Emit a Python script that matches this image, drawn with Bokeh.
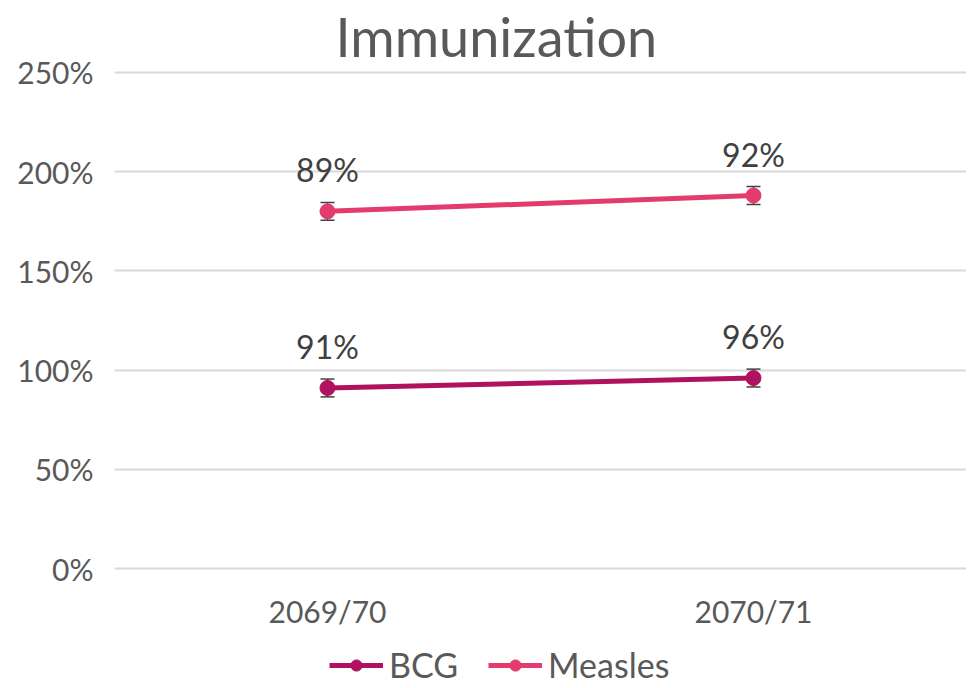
from bokeh.plotting import figure
from bokeh.layouts import column
from bokeh.models import (ColumnDataSource, Range1d, FactorRange, Whisker, TeeHead,
                          LabelSet, Legend, LegendItem, CustomJSTickFormatter)
from bokeh.core.properties import value
from bokeh.embed import file_html
from bokeh.resources import INLINE

categories = ["2069/70", "2070/71"]
bcg = [91, 96]
measles = [89, 92]
err = [4.5, 4.5]
y_ticks = [0, 50, 100, 150, 200, 250]
series_names = ["BCG", "Measles"]

FONT = "Lato"
TXT = "#595959"
C_BCG = "#B0125F"
C_MEA = "#E33B6E"

measles_stacked = [a + b for a, b in zip(bcg, measles)]

src_b = ColumnDataSource(dict(x=categories, y=bcg,
                              lo=[v - e for v, e in zip(bcg, err)],
                              hi=[v + e for v, e in zip(bcg, err)],
                              lab=[f"{v}%" for v in bcg]))
src_m = ColumnDataSource(dict(x=categories, y=measles_stacked,
                              lo=[v - e for v, e in zip(measles_stacked, err)],
                              hi=[v + e for v, e in zip(measles_stacked, err)],
                              lab=[f"{v}%" for v in measles]))

p = figure(frame_width=852, frame_height=500,
           x_range=FactorRange(*categories, range_padding=0),
           y_range=Range1d(-1, 251), output_backend="svg", toolbar_location=None,
           min_border_left=114, min_border_right=0, min_border_top=0, min_border_bottom=0)
p.x_range.factor_padding = 0
p.outline_line_color = None
p.background_fill_color = "white"
p.border_fill_color = "white"

p.title.text = "Immunization"
p.title.align = "left"
p.title.text_font = FONT
p.title.text_font_size = "54px"
p.title.text_font_style = "normal"
p.title.text_color = TXT
p.title.offset = 221
p.title.standoff = 3

p.xgrid.grid_line_color = None
p.ygrid.grid_line_color = "#D9D9D9"
p.ygrid.grid_line_width = 2
p.yaxis.ticker = y_ticks
p.yaxis.formatter = CustomJSTickFormatter(code="return tick + '%';")
for ax in (p.xaxis, p.yaxis):
    ax.axis_line_color = None
    ax.major_tick_line_color = None
    ax.minor_tick_line_color = None
    ax.major_label_text_font = FONT
    ax.major_label_text_font_size = "30px"
    ax.major_label_text_color = TXT
p.yaxis.major_label_standoff = 15
p.xaxis.major_label_standoff = 16

for s in (src_b, src_m):
    w = Whisker(source=s, base="x", upper="hi", lower="lo", line_color="#404040", line_width=1.5,
                upper_head=TeeHead(size=14, line_color="#404040", line_width=1.5),
                lower_head=TeeHead(size=14, line_color="#404040", line_width=1.5))
    p.add_layout(w)

p.line("x", "y", source=src_b, line_color=C_BCG, line_width=5)
p.scatter("x", "y", source=src_b, size=15, fill_color=C_BCG, line_color=C_BCG)
p.line("x", "y", source=src_m, line_color=C_MEA, line_width=5)
p.scatter("x", "y", source=src_m, size=15, fill_color=C_MEA, line_color=C_MEA)

for s in (src_b, src_m):
    p.add_layout(LabelSet(x="x", y="y", text="lab", source=s, y_offset=22,
                          text_align="center", text_baseline="bottom",
                          text_font=value(FONT), text_font_size="32px", text_color="#404040"))

# legend strip below the chart (frames are aligned with the chart above)
q = figure(width=966, height=54, x_range=Range1d(0, 1), y_range=Range1d(0, 1),
           output_backend="svg", toolbar_location=None,
           min_border_left=0, min_border_right=0, min_border_top=0, min_border_bottom=0)
q.axis.visible = False
q.grid.grid_line_color = None
q.outline_line_color = None
items = []
for name, col in zip(series_names, [C_BCG, C_MEA]):
    hidden = ColumnDataSource(dict(x=[-5, -4], y=[-5, -5]))
    r1 = q.line("x", "y", source=hidden, line_color=col, line_width=5)
    r2 = q.scatter("x", "y", source=hidden, size=15, fill_color=col, line_color=col)
    items.append(LegendItem(label=name, renderers=[r1, r2]))
legend = Legend(items=items, orientation="horizontal", location=(215, 0),
                label_text_font=FONT, label_text_font_size="34px", label_text_color=TXT,
                glyph_width=54, glyph_height=28, spacing=30, label_standoff=6,
                border_line_color=None, background_fill_alpha=0, padding=0, margin=0)
q.add_layout(legend)

layout = column(p, q, spacing=0)
open("out.html", "w").write(file_html(layout, INLINE))
